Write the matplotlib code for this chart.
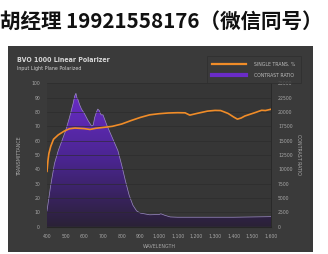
import numpy as np
import matplotlib
matplotlib.use('Agg')
import matplotlib.pyplot as plt
from matplotlib.patches import Rectangle
from matplotlib.lines import Line2D
from matplotlib.font_manager import FontProperties, findfont

# Data
wl_trans = [400, 405, 410, 420, 435, 460, 490, 520, 550, 600, 630, 660, 700, 750,
            800, 850, 900, 950, 1000, 1050, 1100, 1140, 1165, 1200, 1260, 1300,
            1330, 1370, 1400, 1420, 1440, 1460, 1490, 1520, 1550, 1570, 1600]
trans = [38.6, 46, 51, 56, 61, 64, 66.5, 68.3, 68.8, 68.4, 67.8, 68.6, 69.2, 70.0,
         71.6, 74.0, 76.2, 78.0, 78.8, 79.3, 79.5, 79.4, 77.8, 78.9, 80.6, 81.1,
         81.0, 79.0, 76.5, 75.0, 75.8, 77.2, 78.5, 79.8, 81.2, 81.0, 81.9]

wl_cr = [400, 410, 420, 440, 460, 480, 500, 520, 530, 540, 548, 555, 560, 565, 575,
         585, 600, 620, 640, 648, 655, 665, 672, 680, 690, 700, 720, 740, 760, 780,
         800, 820, 840, 860, 880, 900, 950, 1000, 1010, 1030, 1060, 1100, 1200,
         1300, 1400, 1500, 1600]
contrast = [2750, 5000, 7250, 11000, 13250, 15000, 16750, 19000, 20250, 21500, 22750,
            23250, 22500, 22250, 21250, 20500, 19750, 18500, 17500, 17750, 19000,
            20000, 20500, 20250, 19500, 19500, 17750, 16250, 14750, 13250, 10750,
            8000, 5500, 3750, 2750, 2375, 2075, 2125, 2250, 2000, 1700, 1650, 1650,
            1650, 1650, 1700, 1750]

xticks = [400, 500, 600, 700, 800, 900, 1000, 1100, 1200, 1300, 1400, 1500, 1600]
yticks_left = [0, 10, 20, 30, 40, 50, 60, 70, 80, 90, 100]
yticks_right = [0, 2500, 5000, 7500, 10000, 12500, 15000, 17500, 20000, 22500, 25000]

PANEL = '#3a3a3a'
AXBG = '#363636'
GRID = '#2b2b2b'
TXT = '#a8a8a8'
ORANGE = '#f08c28'
PURPLE = '#6a2cc8'

# condensed face for the title if the system has one
cond = FontProperties(family='DejaVu Sans', stretch='condensed', weight='bold')
has_cond = 'Condensed' in findfont(cond)
title_kw = dict(family='DejaVu Sans', fontstretch='condensed') if has_cond else dict(family='Liberation Sans')
title_size = 5.0 if has_cond else 4.8

fig = plt.figure(figsize=(3.28, 2.54), dpi=100)
fig.patch.set_facecolor('white')

fig.text(0.0, 0.915, '胡经理 19921558176（微信同号）', fontsize=14.8, fontweight='bold',
         family=['Noto Sans CJK SC', 'DejaVu Sans'], color='#111111', ha='left', va='center')

# dark panel behind the chart
fig.patches.append(Rectangle((8 / 328, 1 - 252 / 254), 305 / 328, 206 / 254,
                             transform=fig.transFigure, facecolor=PANEL, edgecolor='none', zorder=-5))

fig.text(17 / 328, 1 - 59.5 / 254, 'BVO 1000 Linear Polarizer', fontsize=title_size, fontweight='bold',
         color='#d6d6d6', ha='left', va='center', **title_kw)
fig.text(17 / 328, 1 - 68.7 / 254, 'Input Light Plane Polarized', fontsize=3.9,
         color='#cfcfcf', ha='left', va='center', **title_kw)

ax2 = fig.add_axes([47 / 328, 1 - 226.7 / 254, 224 / 328, 143.4 / 254])
ax = ax2.twinx()
ax2.set_facecolor(AXBG)

# contrast ratio (right scale) with gradient fill
ax2.set_xlim(400, 1600)
ax2.set_ylim(0, 25000)
poly = ax2.fill_between(wl_cr, contrast, 0, facecolor='none', edgecolor='none')
grad = np.linspace(0, 1, 256).reshape(-1, 1)
cmap = matplotlib.colors.LinearSegmentedColormap.from_list('pg', ['#2a2136', '#4a2590', PURPLE])
img = ax2.imshow(grad, extent=[400, 1600, 0, 23500], origin='lower', aspect='auto', cmap=cmap, zorder=1)
img.set_clip_path(poly.get_paths()[0], transform=ax2.transData)
ax2.plot(wl_cr, contrast, color='#9c8cc4', lw=0.5, zorder=2)

ax2.yaxis.tick_right()
ax2.yaxis.set_label_position('right')
ax2.set_yticks(yticks_right)
ax2.set_yticklabels([str(v) for v in yticks_right])
ax2.set_ylabel('CONTRAST RATIO', rotation=270, fontsize=3.4, color=TXT, labelpad=6)
ax2.set_xticks(xticks)
ax2.set_xticklabels(['{:,}'.format(v) for v in xticks])
ax2.set_xlabel('WAVELENGTH', fontsize=3.4, color=TXT, labelpad=4)
ax2.tick_params(labelsize=3.3, colors=TXT, length=0, pad=5)

# transmittance (left scale) drawn on top
ax.set_zorder(ax2.get_zorder() + 1)
ax.patch.set_visible(False)
ax.yaxis.tick_left()
ax.yaxis.set_label_position('left')
ax.set_ylim(0, 100)
ax.set_yticks(yticks_left)
ax.set_ylabel('TRANSMITTANCE', fontsize=3.4, color=TXT, labelpad=7)
ax.tick_params(labelsize=3.3, colors=TXT, length=0, pad=5)
ax.grid(True, color=GRID, lw=0.6, alpha=0.7)
ax.plot(wl_trans, trans, color=ORANGE, lw=1.2, zorder=3)

for a in (ax, ax2):
    for s in a.spines.values():
        s.set_visible(False)
ax.spines['bottom'].set_visible(True)
ax.spines['bottom'].set_color('#262626')
ax.spines['right'].set_visible(True)
ax.spines['right'].set_color('#262626')
ax.spines['right'].set_linewidth(0.6)

handles = [Line2D([0], [0], color=ORANGE, lw=1.6), Line2D([0], [0], color=PURPLE, lw=3)]
leg = fig.legend(handles, ['SINGLE TRANS. %', 'CONTRAST RATIO'], loc='upper right',
                 bbox_to_anchor=(303 / 328, 1 - 54 / 254), fontsize=3.3, frameon=True,
                 facecolor=PANEL, edgecolor='#2e2e2e', handlelength=7.5, borderpad=1.2,
                 labelspacing=1.3, handletextpad=1.6, fancybox=False)
leg.get_frame().set_linewidth(0.6)
for t in leg.get_texts():
    t.set_color('#bdbdbd')

fig.savefig('out.png', dpi=100, facecolor='white')
